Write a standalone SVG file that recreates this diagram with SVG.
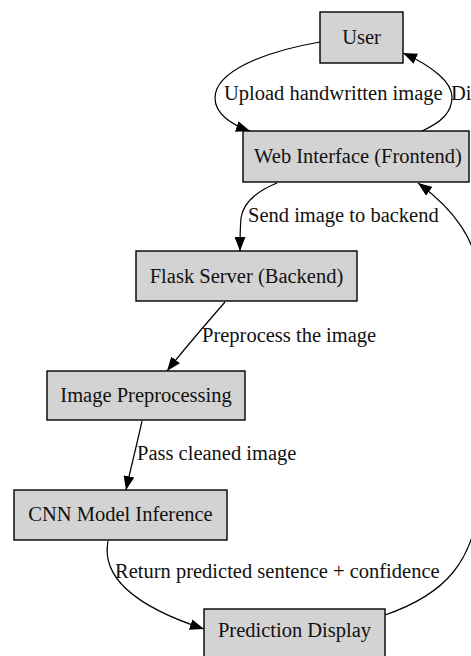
<svg xmlns="http://www.w3.org/2000/svg" width="471" height="656" viewBox="0 0 471 656">
  <style>
    .box { fill: #d3d3d3; stroke: #000; stroke-width: 1.4; }
    .lbl { font-family: "Liberation Serif", "Times New Roman", serif; font-size: 20.5px; fill: #111; }
    .nt { text-anchor: middle; }
    .edge { fill: none; stroke: #000; stroke-width: 1.2; marker-end: url(#arrow); }
  </style>
  <defs>
    <marker id="arrow" markerUnits="userSpaceOnUse" markerWidth="15" markerHeight="11" refX="14" refY="5.5" orient="auto">
      <path d="M0,0 L14,5.5 L0,11 z" fill="#000"/>
    </marker>
  </defs>
  <rect width="471" height="656" fill="#fff"/>

  <g id="connectors">
    <g id="e-user-web">
      <path class="edge" d="M320,42 C262,52 215,72 215,98 C215,114 232,125 250,131"/>
      <text class="lbl" x="224" y="100">Upload handwritten image</text>
    </g>
    <g id="e-web-user">
      <path class="edge" d="M422,131 C442,122 452,112 452,97 C452,82 432,66 403,53"/>
      <text class="lbl" x="451" y="100">Di</text>
    </g>
    <g id="e-web-flask">
      <path class="edge" d="M277,183 C255,192 243,204 241,218 C240,230 240,240 240,251"/>
      <text class="lbl" x="248" y="222">Send image to backend</text>
    </g>
    <g id="e-flask-pre">
      <path class="edge" d="M225,302 C205,325 185,348 167,371"/>
      <text class="lbl" x="202" y="342">Preprocess the image</text>
    </g>
    <g id="e-pre-cnn">
      <path class="edge" d="M142,421 C137,444 131,467 126,490"/>
      <text class="lbl" x="137" y="460">Pass cleaned image</text>
    </g>
    <g id="e-cnn-pred">
      <path class="edge" d="M108,541 C102,572 125,603 204,629"/>
      <text class="lbl" x="115" y="578">Return predicted sentence + confidence</text>
    </g>
    <g id="e-pred-web">
      <path class="edge" d="M385,615 C440,596 480,565 480,480 L480,290 C480,240 452,208 418,183"/>
    </g>
  </g>

  <g id="user">
    <rect class="box" x="320" y="12" width="83" height="51"/>
    <text class="lbl nt" x="361.5" y="44">User</text>
  </g>
  <g id="web">
    <rect class="box" x="243" y="131" width="226" height="51"/>
    <text class="lbl nt" x="358" y="163">Web Interface (Frontend)</text>
  </g>
  <g id="flask">
    <rect class="box" x="136" y="251" width="221" height="50"/>
    <text class="lbl nt" x="246.5" y="283">Flask Server (Backend)</text>
  </g>
  <g id="preprocess">
    <rect class="box" x="47" y="371" width="198" height="49"/>
    <text class="lbl nt" x="146" y="402">Image Preprocessing</text>
  </g>
  <g id="cnn">
    <rect class="box" x="14" y="490" width="213" height="50"/>
    <text class="lbl nt" x="120.5" y="521">CNN Model Inference</text>
  </g>
  <g id="prediction">
    <rect class="box" x="204" y="609" width="181" height="50"/>
    <text class="lbl nt" x="294.5" y="637">Prediction Display</text>
  </g>
</svg>
